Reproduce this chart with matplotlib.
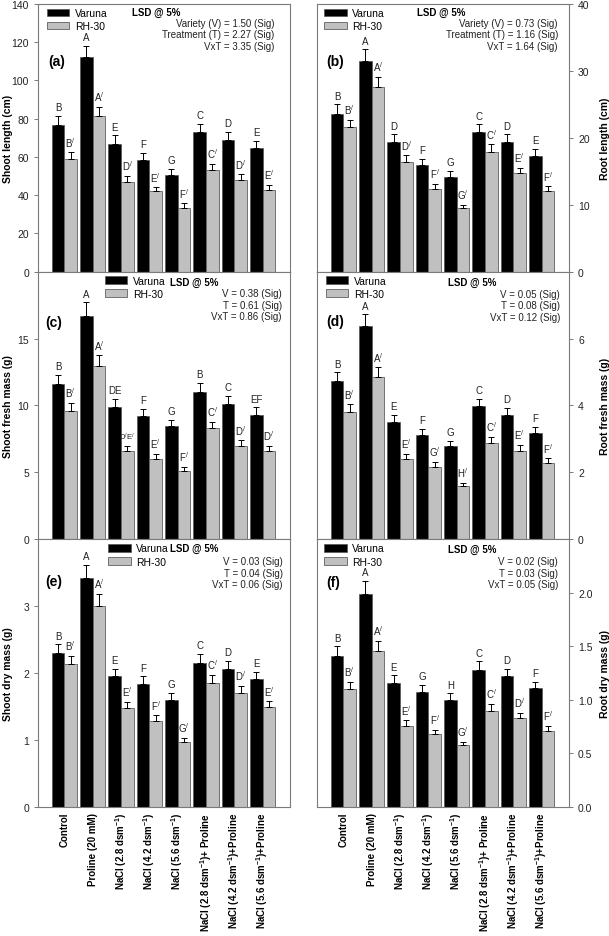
import numpy as np
import matplotlib
matplotlib.use('Agg')
import matplotlib.pyplot as plt

plt.rcParams['font.family'] = ['Liberation Sans', 'DejaVu Sans']
plt.rcParams['mathtext.fontset'] = 'custom'
plt.rcParams['mathtext.rm'] = 'Liberation Sans'
plt.rcParams['mathtext.bf'] = 'Liberation Sans:bold'
plt.rcParams['mathtext.default'] = 'regular'

treatments = ['Control', 'Proline (20 mM)',
              r'NaCl (2.8 dsm$^{\mathbf{-1}}$)',
              r'NaCl (4.2 dsm$^{\mathbf{-1}}$)',
              r'NaCl (5.6 dsm$^{\mathbf{-1}}$)',
              r'NaCl (2.8 dsm$^{\mathbf{-1}}$)+ Proline',
              r'NaCl (4.2 dsm$^{\mathbf{-1}}$)+Proline',
              r'NaCl (5.6 dsm$^{\mathbf{-1}}$)+Proline']

# (a) shoot length (cm)
sl_var = [76.5, 112.1, 66.5, 58.6, 50.6, 72.8, 68.9, 64.4]
sl_var_err = [4.9, 6.1, 4.7, 3.3, 3.0, 4.4, 4.2, 3.8]
sl_rh = [58.8, 81.2, 47.1, 41.9, 33.5, 53.3, 47.7, 42.6]
sl_rh_err = [3.5, 5.0, 3.0, 2.1, 2.2, 3.1, 3.1, 2.6]
sl_var_let = ['B', 'A', 'E', 'F', 'G', 'C', 'D', 'E']
sl_rh_let = ['B', 'A', 'D', 'E', 'F', 'C', 'D', 'E']

# (b) root length (cm)
rl_var = [23.6, 31.5, 19.4, 15.95, 14.2, 20.8, 19.4, 17.2]
rl_var_err = [1.4, 1.7, 1.1, 0.9, 0.8, 1.2, 1.1, 1.1]
rl_rh = [21.6, 27.6, 16.35, 12.35, 9.45, 17.9, 14.7, 12.05]
rl_rh_err = [1.1, 1.5, 1.0, 0.8, 0.55, 1.1, 0.8, 0.7]
rl_var_let = ['B', 'A', 'D', 'F', 'G', 'C', 'D', 'E']
rl_rh_let = ['B', 'A', 'D', 'F', 'G', 'C', 'E', 'F']

# (c) shoot fresh mass (g)
sf_var = [11.6, 16.7, 9.9, 9.2, 8.45, 11.0, 10.1, 9.3]
sf_var_err = [0.7, 1.0, 0.6, 0.55, 0.5, 0.7, 0.6, 0.55]
sf_rh = [9.6, 12.95, 6.6, 6.0, 5.1, 8.35, 7.0, 6.6]
sf_rh_err = [0.6, 0.8, 0.4, 0.4, 0.3, 0.45, 0.4, 0.4]
sf_var_let = ['B', 'A', 'DE', 'F', 'G', 'B', 'C', 'EF']
sf_rh_let = ['B', 'A', 'D/E', 'E', 'F', 'C', 'D', 'D']

# (d) root fresh mass (g)
rf_var = [4.72, 6.36, 3.51, 3.13, 2.78, 3.99, 3.71, 3.17]
rf_var_err = [0.27, 0.36, 0.21, 0.18, 0.17, 0.2, 0.21, 0.19]
rf_rh = [3.8, 4.84, 2.4, 2.17, 1.58, 2.89, 2.65, 2.28]
rf_rh_err = [0.23, 0.3, 0.15, 0.14, 0.1, 0.18, 0.17, 0.14]
rf_var_let = ['B', 'A', 'E', 'F', 'G', 'C', 'D', 'F']
rf_rh_let = ['B', 'A', 'E', 'G', 'H', 'C', 'E', 'F']

# (e) shoot dry mass (g)
sd_var = [2.3, 3.42, 1.95, 1.84, 1.6, 2.15, 2.06, 1.91]
sd_var_err = [0.13, 0.2, 0.11, 0.11, 0.1, 0.14, 0.12, 0.11]
sd_rh = [2.14, 3.0, 1.48, 1.29, 0.97, 1.86, 1.71, 1.49]
sd_rh_err = [0.12, 0.18, 0.09, 0.08, 0.06, 0.11, 0.1, 0.09]
sd_var_let = ['B', 'A', 'E', 'F', 'G', 'C', 'D', 'E']
sd_rh_let = ['B', 'A', 'E', 'F', 'G', 'C', 'D', 'E']

# (f) root dry mass (g)
rd_var = [1.41, 1.99, 1.16, 1.07, 1.0, 1.28, 1.22, 1.11]
rd_var_err = [0.09, 0.12, 0.07, 0.07, 0.06, 0.08, 0.07, 0.06]
rd_rh = [1.1, 1.46, 0.76, 0.68, 0.58, 0.9, 0.83, 0.71]
rd_rh_err = [0.07, 0.09, 0.05, 0.04, 0.03, 0.06, 0.05, 0.05]
rd_var_let = ['B', 'A', 'E', 'G', 'H', 'C', 'D', 'F']
rd_rh_let = ['B', 'A', 'E', 'F', 'G', 'C', 'D', 'F']

panels = [
    dict(tag='(a)', ylabel='Shoot length (cm)', var=sl_var, var_err=sl_var_err, rh=sl_rh, rh_err=sl_rh_err,
         var_let=sl_var_let, rh_let=sl_rh_let, ylim=140, yticks=[0, 20, 40, 60, 80, 100, 120, 140], fmt='%d',
         lsd=['Variety (V) = 1.50 (Sig)', 'Treatment (T) = 2.27 (Sig)', 'VxT = 3.35 (Sig)']),
    dict(tag='(b)', ylabel='Root length (cm)', var=rl_var, var_err=rl_var_err, rh=rl_rh, rh_err=rl_rh_err,
         var_let=rl_var_let, rh_let=rl_rh_let, ylim=40, yticks=[0, 10, 20, 30, 40], fmt='%d',
         lsd=['Variety (V) = 0.73 (Sig)', 'Treatment (T) = 1.16 (Sig)', 'VxT = 1.64 (Sig)']),
    dict(tag='(c)', ylabel='Shoot fresh mass (g)', var=sf_var, var_err=sf_var_err, rh=sf_rh, rh_err=sf_rh_err,
         var_let=sf_var_let, rh_let=sf_rh_let, ylim=20, yticks=[0, 5, 10, 15], fmt='%d',
         lsd=['V = 0.38 (Sig)', 'T = 0.61 (Sig)', 'VxT = 0.86 (Sig)']),
    dict(tag='(d)', ylabel='Root fresh mass (g)', var=rf_var, var_err=rf_var_err, rh=rf_rh, rh_err=rf_rh_err,
         var_let=rf_var_let, rh_let=rf_rh_let, ylim=8, yticks=[0, 2, 4, 6], fmt='%d',
         lsd=['V = 0.05 (Sig)', 'T = 0.08 (Sig)', 'VxT = 0.12 (Sig)']),
    dict(tag='(e)', ylabel='Shoot dry mass (g)', var=sd_var, var_err=sd_var_err, rh=sd_rh, rh_err=sd_rh_err,
         var_let=sd_var_let, rh_let=sd_rh_let, ylim=4, yticks=[0, 1, 2, 3], fmt='%d',
         lsd=['V = 0.03 (Sig)', 'T = 0.04 (Sig)', 'VxT = 0.06 (Sig)']),
    dict(tag='(f)', ylabel='Root dry mass (g)', var=rd_var, var_err=rd_var_err, rh=rd_rh, rh_err=rd_rh_err,
         var_let=rd_var_let, rh_let=rd_rh_let, ylim=2.5, yticks=[0, 0.5, 1.0, 1.5, 2.0], fmt='%.1f',
         lsd=['V = 0.02 (Sig)', 'T = 0.03 (Sig)', 'VxT = 0.05 (Sig)']),
]

# layout per panel: legend anchor, LSD title x/y, LSD lines right x, first line y, tag x/y
layout = [
    dict(leg=(0.005, 1.012), lsd_x=0.373, lsd_y=0.97, lines_x=0.937, lines_y=0.929, tag=(0.04, 0.787)),
    dict(leg=(0.0, 1.012), lsd_x=0.397, lsd_y=0.97, lines_x=0.956, lines_y=0.929, tag=(0.036, 0.787)),
    dict(leg=(0.235, 1.012), lsd_x=0.524, lsd_y=0.963, lines_x=0.968, lines_y=0.92, tag=(0.028, 0.813)),
    dict(leg=(0.005, 1.012), lsd_x=0.52, lsd_y=0.96, lines_x=0.964, lines_y=0.918, tag=(0.036, 0.817)),
    dict(leg=(0.25, 1.012), lsd_x=0.524, lsd_y=0.966, lines_x=0.972, lines_y=0.918, tag=(0.028, 0.843)),
    dict(leg=(0.0, 1.012), lsd_x=0.52, lsd_y=0.963, lines_x=0.956, lines_y=0.918, tag=(0.036, 0.84)),
]

W, H = 609, 937
fig = plt.figure(figsize=(W / 100, H / 100), dpi=100)

ax_left = [38 / W, 317 / W]
ax_w = 252 / W
ax_h = 267.7 / H
bottom0 = 1 - 808 / H

spine_col = '#7a7a7a'
bw = 0.445
x = np.arange(len(treatments))

for k, p in enumerate(panels):
    row, col = k // 2, k % 2
    ax = fig.add_axes([ax_left[col], bottom0 + (2 - row) * ax_h, ax_w, ax_h])
    lay = layout[k]

    ekw = dict(elinewidth=0.7, capsize=2.3, capthick=0.7, ecolor='black')
    b1 = ax.bar(x - bw / 2, p['var'], bw, color='black', edgecolor='#555555', linewidth=0.5,
                yerr=[np.zeros(8), p['var_err']], error_kw=ekw, label='Varuna')
    b2 = ax.bar(x + bw / 2, p['rh'], bw, color='#c0c0c0', edgecolor='#606060', linewidth=0.6,
                yerr=[np.zeros(8), p['rh_err']], error_kw=ekw, label='RH-30')

    pad = p['ylim'] * 0.014
    for i in range(8):
        ax.text(x[i] - bw / 2, p['var'][i] + p['var_err'][i] + pad, p['var_let'][i],
                ha='center', va='bottom', fontsize=7, color='#222222')
        lab = p['rh_let'][i]
        if '/' in lab:
            a, b = lab.split('/')
            txt = a + '$^{/}$' + b + '$^{/}$'
            fs = 5.5
        else:
            txt = lab + '$^{/}$'
            fs = 7
        ax.text(x[i] + bw / 2, p['rh'][i] + p['rh_err'][i] + pad, txt,
                ha='center', va='bottom', fontsize=fs, color='#222222')

    ax.set_xlim(-0.93, 7.97)
    ax.set_ylim(0, p['ylim'])
    ax.set_yticks(p['yticks'])
    ax.set_yticklabels([p['fmt'] % t for t in p['yticks']], fontsize=7.5, color='#222222')
    ax.tick_params(axis='y', direction='out', length=3, width=0.7, color=spine_col)
    ax.tick_params(axis='x', length=0)
    for s in ax.spines.values():
        s.set_color(spine_col)
        s.set_linewidth(0.8)

    if col == 1:
        ax.yaxis.tick_right()
        ax.yaxis.set_label_position('right')
        ax.set_ylabel(p['ylabel'], fontsize=7.5, fontweight='bold', rotation=90)
        ax.yaxis.set_label_coords(1.123, 0.5)
    else:
        ax.set_ylabel(p['ylabel'], fontsize=7.5, fontweight='bold')
        ax.yaxis.set_label_coords(-0.1, 0.5)

    if row == 2:
        ax.set_xticks(x)
        ax.set_xticklabels(treatments, rotation=90, fontsize=7, fontweight='bold', va='top')
    else:
        ax.set_xticks([])

    ax.legend(handles=[b1, b2], loc='upper left', bbox_to_anchor=lay['leg'], frameon=False,
              fontsize=7.5, handlelength=2.2, handleheight=0.75, handletextpad=0.5,
              labelspacing=0.3, borderaxespad=0.3)

    ax.text(lay['lsd_x'], lay['lsd_y'], 'LSD @ 5%', transform=ax.transAxes, fontsize=7,
            fontweight='bold', ha='left', va='center')
    for j, line in enumerate(p['lsd']):
        ax.text(lay['lines_x'], lay['lines_y'] - j * 0.043, line, transform=ax.transAxes,
                fontsize=7, ha='right', va='center', color='#222222')

    ax.text(lay['tag'][0], lay['tag'][1], p['tag'], transform=ax.transAxes, fontsize=10,
            fontweight='bold', ha='left', va='center')

fig.savefig('out.png', dpi=100)
